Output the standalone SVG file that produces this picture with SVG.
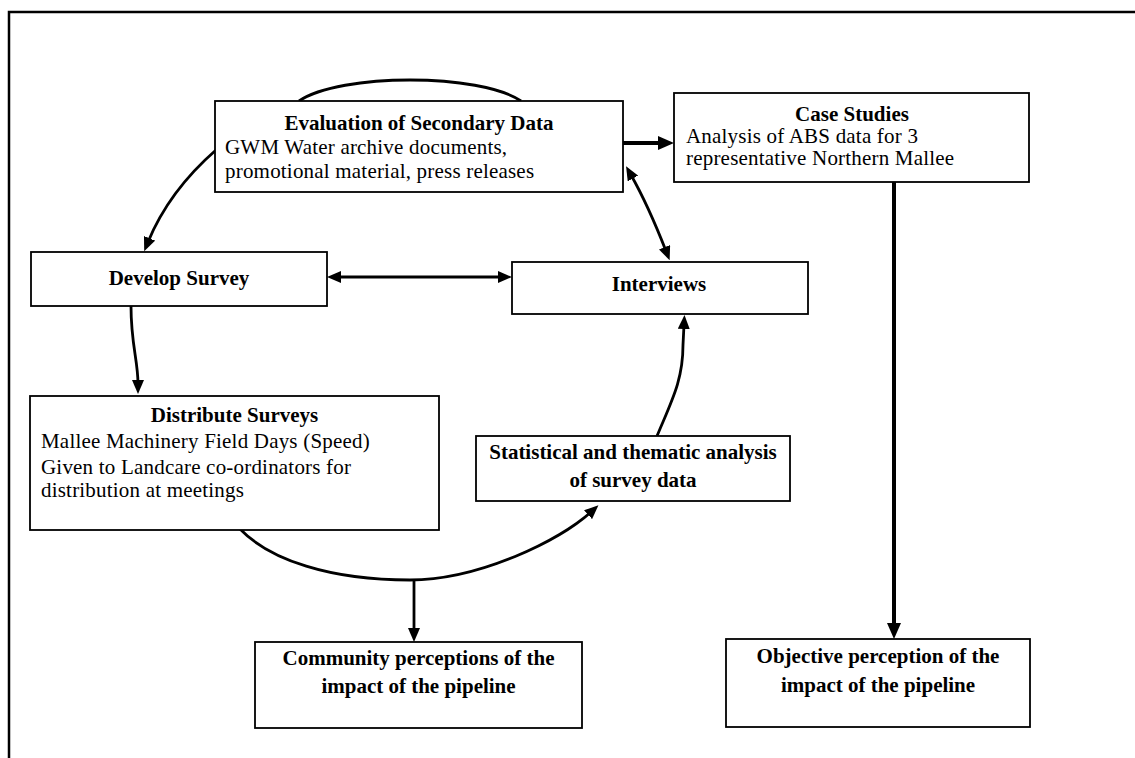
<svg xmlns="http://www.w3.org/2000/svg" width="1135" height="758" viewBox="0 0 1135 758">
<style>
  .box { fill: #fff; stroke: #000; stroke-width: 1.8; }
  .t { font-family: "Liberation Serif", "Times New Roman", serif; font-size: 21px; fill: #000; letter-spacing: 0.2px; }
  .b { font-weight: bold; letter-spacing: 0; }
  .c { text-anchor: middle; }
  .con { fill: none; stroke: #000; stroke-width: 2.8; }
  .thick { fill: none; stroke: #000; stroke-width: 4; }
  .frame { fill: none; stroke: #000; stroke-width: 2.5; }
</style>
<defs>
  <marker id="ah" viewBox="0 0 14 12" refX="4" refY="6" markerWidth="14" markerHeight="12" orient="auto-start-reverse" markerUnits="userSpaceOnUse">
    <path d="M0,0 L14,6 L0,12 z" fill="#000"/>
  </marker>
  <marker id="ahb" viewBox="0 0 16 14" refX="4" refY="7" markerWidth="16" markerHeight="14" orient="auto-start-reverse" markerUnits="userSpaceOnUse">
    <path d="M0,0 L16,7 L0,14 z" fill="#000"/>
  </marker>
</defs>
<rect width="1135" height="758" fill="#fff"/>
<path class="frame" d="M9,758 L9,12 L1135,12"/>

<g id="connectors">
  <path class="con" d="M299,101 C340,73 480,73 521,101"/>
  <path class="con" d="M216,150 Q169,191 148,242" marker-end="url(#ah)"/>
  <path class="con" d="M631,175 Q648,205 666,251" marker-start="url(#ah)" marker-end="url(#ah)"/>
  <path class="con" d="M337,277 L502,277" marker-start="url(#ah)" marker-end="url(#ah)"/>
  <path class="con" d="M131,306 C131,345 138,360 138,384" marker-end="url(#ah)"/>
  <path class="con" d="M240,529 C270,560 330,580 410,580 C480,580 560,540 591,512" marker-end="url(#ah)"/>
  <path class="con" d="M414,580 L414,632" marker-end="url(#ah)"/>
  <path class="con" d="M657,436 C672,400 683,380 683,345 L684,325" marker-end="url(#ah)"/>
  <path class="thick" d="M623,143 L662,143" marker-end="url(#ahb)"/>
  <path class="thick" d="M894,182 L894,627" marker-end="url(#ahb)"/>
</g>

<g id="evaluation">
  <rect class="box" x="215" y="101" width="408" height="91"/>
  <text class="t b c" x="419" y="130">Evaluation of Secondary Data</text>
  <text class="t" x="225" y="154">GWM Water archive documents,</text>
  <text class="t" x="225" y="178">promotional material, press releases</text>
</g>

<g id="case-studies">
  <rect class="box" x="674" y="93" width="355" height="89"/>
  <text class="t b c" x="852" y="121">Case Studies</text>
  <text class="t" x="686" y="143">Analysis of ABS data for 3</text>
  <text class="t" x="686" y="165">representative Northern Mallee</text>
</g>

<g id="develop-survey">
  <rect class="box" x="31" y="252" width="296" height="54"/>
  <text class="t b c" x="179" y="285">Develop Survey</text>
</g>

<g id="interviews">
  <rect class="box" x="512" y="262" width="296" height="52"/>
  <text class="t b c" x="659" y="291">Interviews</text>
</g>

<g id="distribute-surveys">
  <rect class="box" x="30" y="396" width="409" height="134"/>
  <text class="t b c" x="234.5" y="422">Distribute Surveys</text>
  <text class="t" x="41" y="448">Mallee Machinery Field Days (Speed)</text>
  <text class="t" x="41" y="474">Given to Landcare co-ordinators for</text>
  <text class="t" x="41" y="497">distribution at meetings</text>
</g>

<g id="statistical-analysis">
  <rect class="box" x="476" y="436" width="314" height="65"/>
  <text class="t b c" x="633" y="459">Statistical and thematic analysis</text>
  <text class="t b c" x="633" y="487">of survey data</text>
</g>

<g id="community-perceptions">
  <rect class="box" x="255" y="642" width="327" height="86"/>
  <text class="t b c" x="418.5" y="665">Community perceptions of the</text>
  <text class="t b c" x="418.5" y="693">impact of the pipeline</text>
</g>

<g id="objective-perception">
  <rect class="box" x="726" y="639" width="304" height="88"/>
  <text class="t b c" x="878" y="663">Objective perception of the</text>
  <text class="t b c" x="878" y="692">impact of the pipeline</text>
</g>
</svg>
